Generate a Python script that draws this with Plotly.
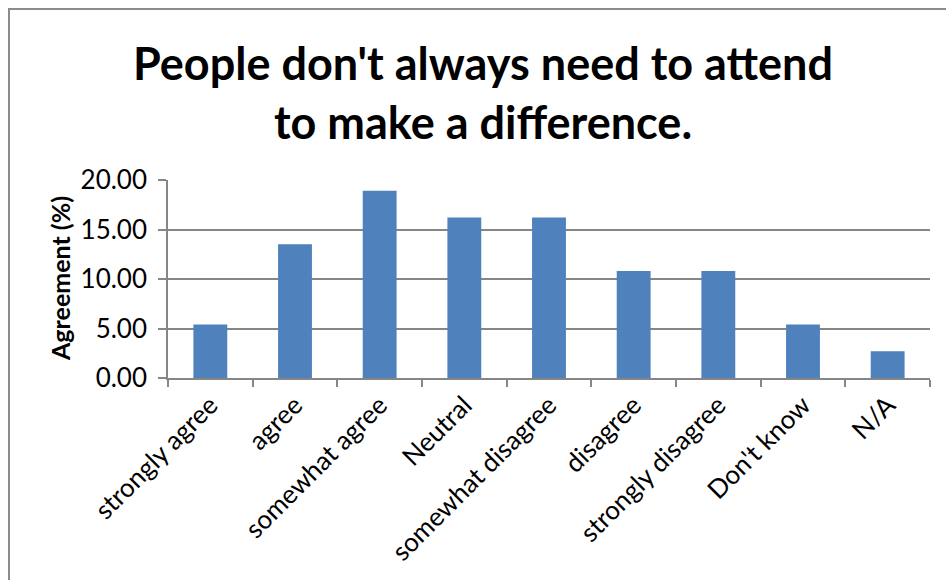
import plotly.graph_objects as go

categories = ["strongly agree", "agree", "somewhat agree", "Neutral", "somewhat disagree",
              "disagree", "strongly disagree", "Don't know", "N/A"]
values = [5.41, 13.51, 18.92, 16.22, 16.22, 10.81, 10.81, 5.41, 2.70]
y_ticks = [0, 5, 10, 15, 20]
y_ticklabels = ["0.00", "5.00", "10.00", "15.00", "20.00"]

FONT = "Lato"
W, H = 946, 580
L, R, T, B = 168, 16, 180, 202

fig = go.Figure()
fig.add_trace(go.Bar(x=categories, y=values, marker=dict(color="#4F81BD", line=dict(width=0)),
                     width=0.4))

pw = W - L - R
ph = H - T - B

fig.update_layout(
    width=W, height=H,
    margin=dict(l=L, r=R, t=T, b=B, pad=0),
    paper_bgcolor="white", plot_bgcolor="white",
    showlegend=False,
    font=dict(family=FONT, color="black", size=26),
    title=dict(text="<b>People don't always need to attend<br>to make a difference.</b>",
               font=dict(family=FONT, size=45, color="black"),
               x=483 / W, xanchor="center", xref="container",
               y=1 - 80 / H, yanchor="middle", yref="container"),
    xaxis=dict(type="category", tickson="boundaries", ticks="outside", ticklen=7,
               tickcolor="#868686", tickwidth=1.5, showline=True, linecolor="#868686",
               linewidth=1.5, showgrid=False, tickangle=-45,
               tickfont=dict(family=FONT, size=26, color="black"),
               range=[-0.5, len(categories) - 0.5]),
    yaxis=dict(range=[0, 20], tickvals=y_ticks, ticktext=y_ticklabels,
               ticks="outside", ticklen=8, tickcolor="#868686", tickwidth=1.5,
               showline=True, linecolor="#868686", linewidth=1.5,
               showgrid=True, gridcolor="#868686", gridwidth=1.5, zeroline=False,
               ticklabelstandoff=6,
               tickfont=dict(family=FONT, size=26, color="black")),
    annotations=[dict(text="<b>Agreement (%)</b>", textangle=-90,
                      xref="paper", yref="paper",
                      x=(60 - L) / pw, y=0.5, xanchor="center", yanchor="middle",
                      showarrow=False, font=dict(family=FONT, size=25, color="black"))],
    shapes=[dict(type="rect", xref="paper", yref="paper",
                 x0=(9 - L) / pw, x1=(960 - L) / pw,
                 y0=(H - B - 600) / ph, y1=(H - B - 9) / ph,
                 line=dict(color="#8C8C8C", width=2), fillcolor="rgba(0,0,0,0)", layer="below")],
)

fig.write_html("out.html")
